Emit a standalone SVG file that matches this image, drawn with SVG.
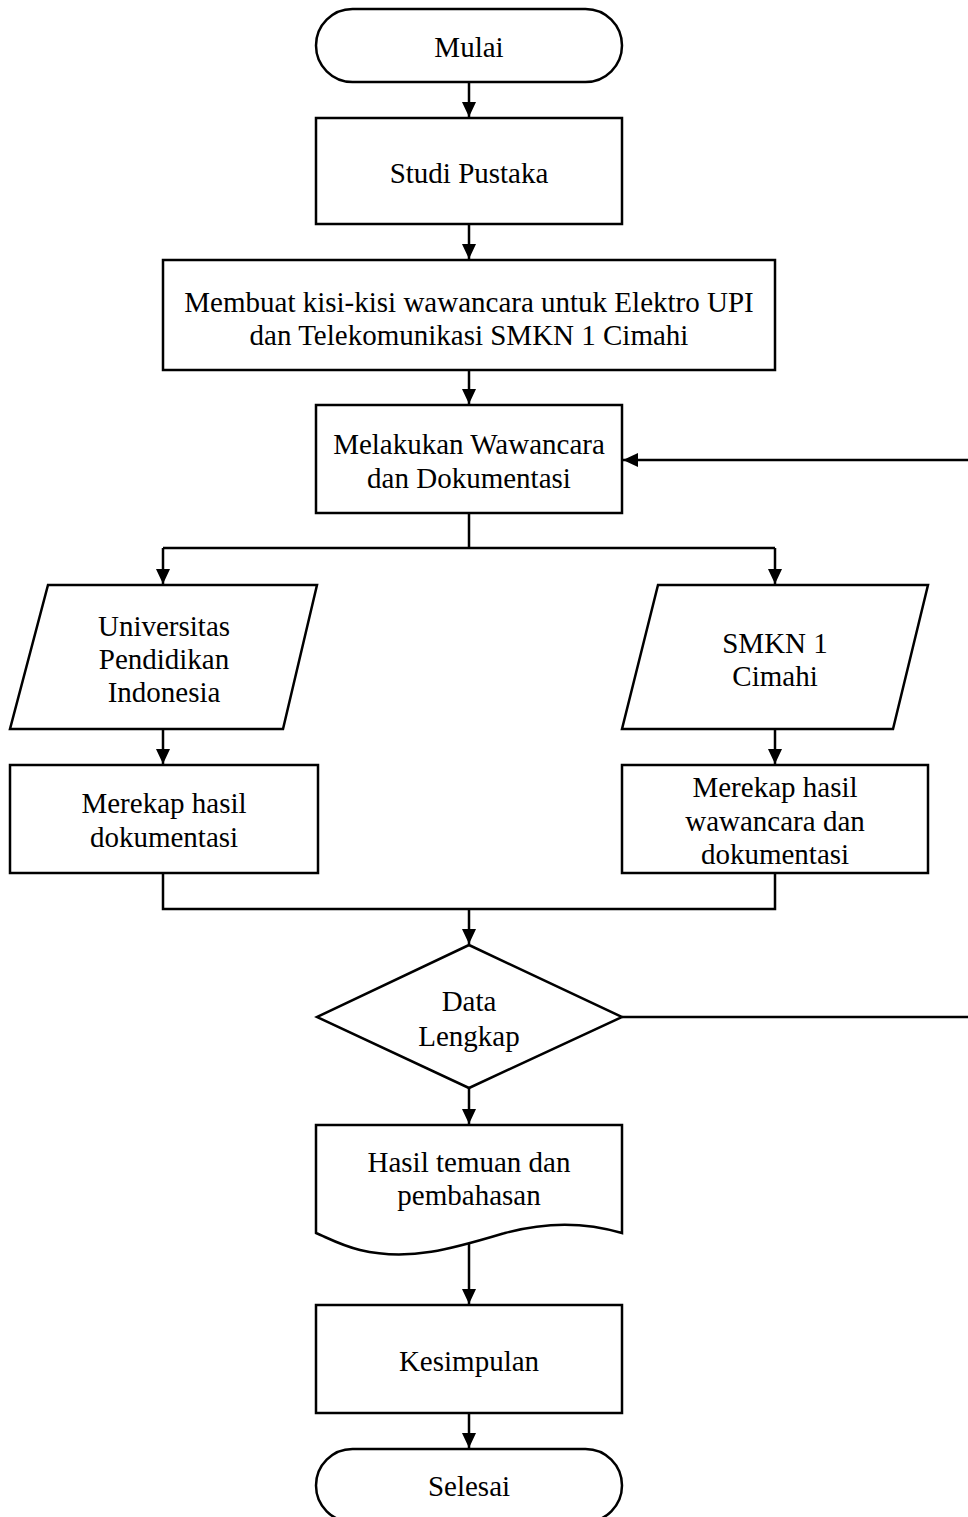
<svg xmlns="http://www.w3.org/2000/svg" width="968" height="1517" viewBox="0 0 968 1517">
<defs>
<marker id="ah" markerWidth="16" markerHeight="16" refX="15" refY="7" orient="auto" markerUnits="userSpaceOnUse">
<path d="M0,0 L15,7 L0,14 Z" fill="#000"/>
</marker>
<style>
.s{fill:#fff;stroke:#000;stroke-width:2.5}
.c{fill:none;stroke:#000;stroke-width:2.5}
.t text{font-size:29px;fill:#000;text-anchor:middle}
</style>
</defs>
<rect width="968" height="1517" fill="#fff"/>
<g id="connectors">
<path class="c" d="M469,82 V117" marker-end="url(#ah)"/>
<path class="c" d="M469,224 V259" marker-end="url(#ah)"/>
<path class="c" d="M469,370 V404" marker-end="url(#ah)"/>
<path class="c" d="M469,513 V548 M163,548 H775"/>
<path class="c" d="M163,548 V584" marker-end="url(#ah)"/>
<path class="c" d="M775,548 V584" marker-end="url(#ah)"/>
<path class="c" d="M163,729 V764" marker-end="url(#ah)"/>
<path class="c" d="M775,729 V764" marker-end="url(#ah)"/>
<path class="c" d="M163,873 V909 H775 V873"/>
<path class="c" d="M469,909 V944" marker-end="url(#ah)"/>
<path class="c" d="M622,1017 H968"/>
<path class="c" d="M968,460 H623" marker-end="url(#ah)"/>
<path class="c" d="M469,1088 V1124" marker-end="url(#ah)"/>
<path class="c" d="M469,1243 V1304" marker-end="url(#ah)"/>
<path class="c" d="M469,1413 V1448" marker-end="url(#ah)"/>
</g>
<g class="t" font-family="Liberation Serif, Times New Roman, serif">
<g id="mulai">
<rect class="s" x="316" y="9" width="306" height="73" rx="36.5"/>
<text x="469" y="57">Mulai</text>
</g>
<g id="studi">
<rect class="s" x="316" y="118" width="306" height="106"/>
<text x="469" y="183">Studi Pustaka</text>
</g>
<g id="kisi">
<rect class="s" x="163" y="260" width="612" height="110"/>
<text x="469" y="312">Membuat kisi-kisi wawancara untuk Elektro UPI</text>
<text x="469" y="345">dan Telekomunikasi SMKN 1 Cimahi</text>
</g>
<g id="wawancara">
<rect class="s" x="316" y="405" width="306" height="108"/>
<text x="469" y="454">Melakukan Wawancara</text>
<text x="469" y="488">dan Dokumentasi</text>
</g>
<g id="upi">
<polygon class="s" points="48,585 317,585 283,729 10,729"/>
<text x="164" y="636">Universitas</text>
<text x="164" y="669">Pendidikan</text>
<text x="164" y="702">Indonesia</text>
</g>
<g id="smkn">
<polygon class="s" points="658,585 928,585 893,729 622,729"/>
<text x="775" y="653">SMKN 1</text>
<text x="775" y="686">Cimahi</text>
</g>
<g id="rekap-upi">
<rect class="s" x="10" y="765" width="308" height="108"/>
<text x="164" y="813">Merekap hasil</text>
<text x="164" y="847">dokumentasi</text>
</g>
<g id="rekap-smkn">
<rect class="s" x="622" y="765" width="306" height="108"/>
<text x="775" y="797">Merekap hasil</text>
<text x="775" y="831">wawancara dan</text>
<text x="775" y="864">dokumentasi</text>
</g>
<g id="data">
<polygon class="s" points="469,945 622,1017 469,1088 317,1017"/>
<text x="469" y="1011">Data</text>
<text x="469" y="1046">Lengkap</text>
</g>
<g id="hasil">
<path class="s" d="M316,1125 H622 V1233 C585,1222 545,1222 505,1233 C455,1248 410,1262 360,1250 C340,1245 328,1238 316,1233 Z"/>
<text x="469" y="1172">Hasil temuan dan</text>
<text x="469" y="1205">pembahasan</text>
</g>
<g id="kesimpulan">
<rect class="s" x="316" y="1305" width="306" height="108"/>
<text x="469" y="1371">Kesimpulan</text>
</g>
<g id="selesai">
<rect class="s" x="316" y="1449" width="306" height="73" rx="36.5"/>
<text x="469" y="1496">Selesai</text>
</g>
</g>
</svg>
